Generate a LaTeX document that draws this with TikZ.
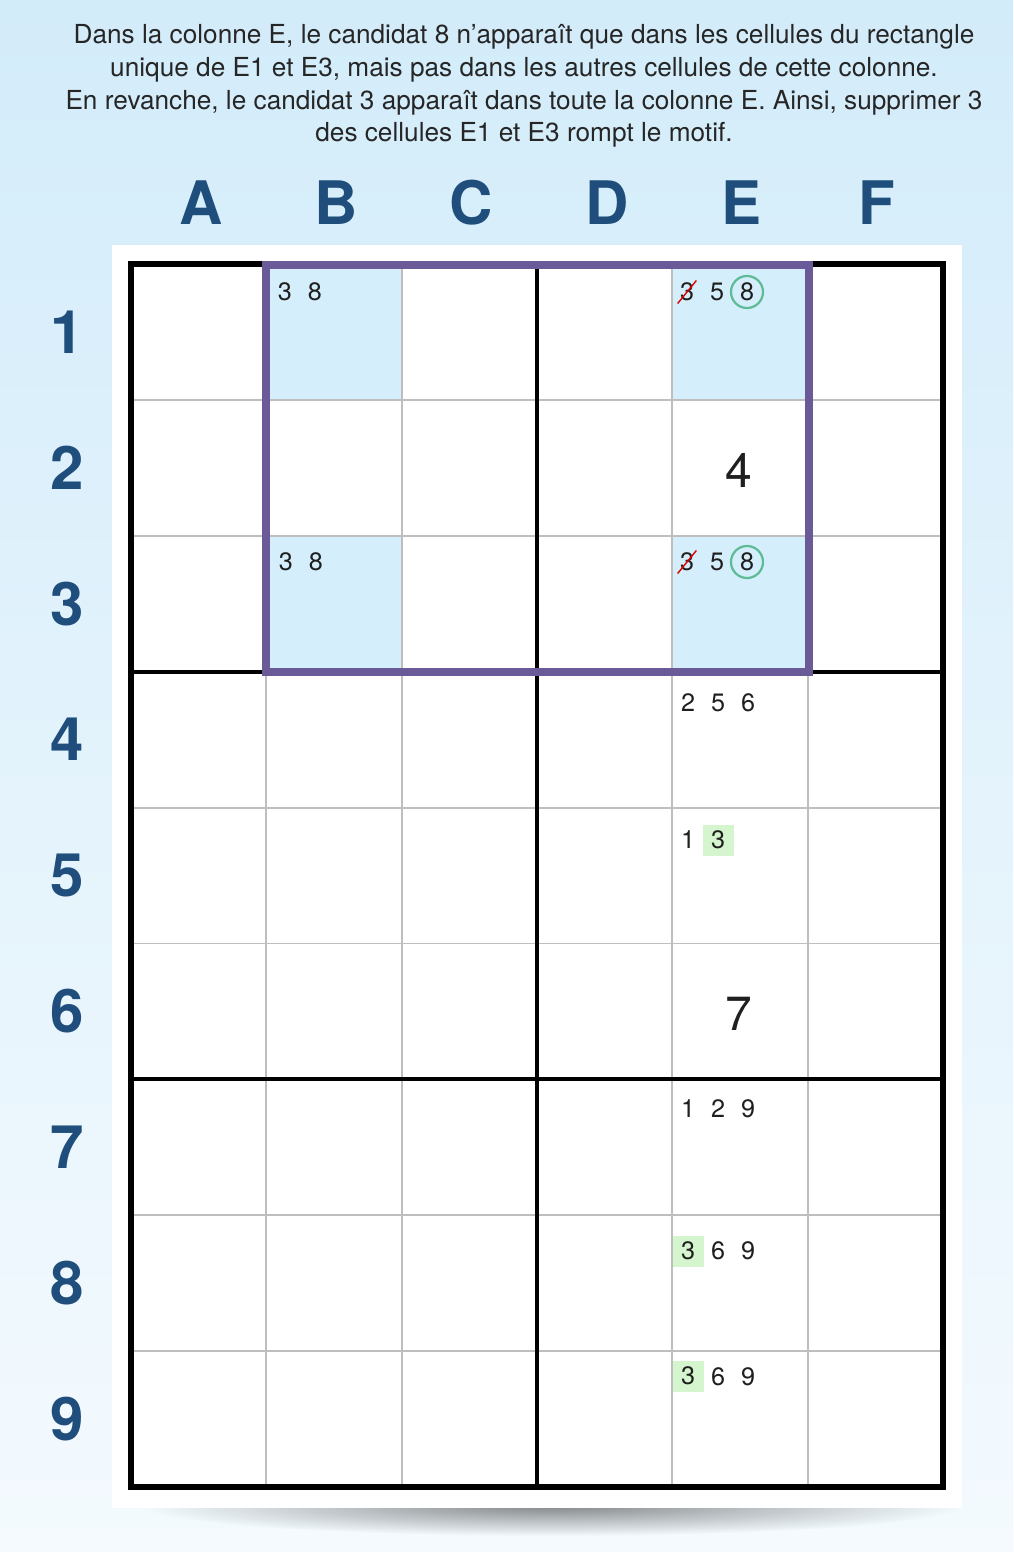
\documentclass[tikz,border=0pt]{standalone}
\usepackage{fontspec}
\setmainfont{TeX Gyre Heros}
\usetikzlibrary{fadings}
\definecolor{bgtop}{HTML}{D3ECFA}
\definecolor{bgbot}{HTML}{F4FAFE}
\definecolor{cellblue}{HTML}{D4EEFB}
\definecolor{labelblue}{HTML}{1F4E7C}
\definecolor{boxpurple}{HTML}{6A5A98}
\definecolor{ringgreen}{HTML}{5DBB95}
\definecolor{hlgreen}{HTML}{D5F5CE}
\definecolor{gridgrey}{HTML}{BEBEBE}
\tikzfading[name=softshadow, inner color=transparent!55, outer color=transparent!100]
\newcommand{\cw}{135.33}
\newcommand{\ch}{135.9}
\tikzset{
  cand/.style={inner sep=1pt, font=\fontsize{12.6}{12.6}\selectfont, text=black!88},
  given/.style={font=\fontsize{24}{24}\selectfont, text=black!88},
  collabel/.style={font=\fontsize{30}{30}\selectfont\bfseries, text=labelblue},
  rowlabel/.style={collabel},
  ring/.style={cand, circle, draw=ringgreen, line width=1.1pt, inner sep=0pt, minimum size=16pt},
  mark3/.style={cand, fill=hlgreen, minimum size=15.5pt, inner sep=0pt},
  strike/.style={red!90!black, line width=0.7pt},
  thingrid/.style={gridgrey, line width=0.9pt},
  thickgrid/.style={black, line width=2pt},
}
\begin{document}
\begin{tikzpicture}[x=0.5pt, y=-0.5pt]
% background and panel
\shade[top color=bgtop, bottom color=bgbot] (0,0) rectangle (1013,1552);
\useasboundingbox (0,0) rectangle (1013,1552);
\fill[black, path fading=softshadow] (552,1506) ellipse [x radius=410, y radius=30];
\fill[white] (112,245) rectangle (962,1508);

% explanation
\node[align=center, font=\fontsize{13.1}{16.4}\selectfont, text=black!85] (intro) at (524,86)
  {Dans la colonne E, le candidat 8 n’apparaît que dans les cellules du rectangle\\
   unique de E1 et E3, mais pas dans les autres cellules de cette colonne.\\
   En revanche, le candidat 3 apparaît dans toute la colonne E. Ainsi, supprimer 3\\
   des cellules E1 et E3 rompt le motif.};

% highlighted cells
\fill[cellblue] (266,264) rectangle (401,401);
\fill[cellblue] (266,537) rectangle (401,673);
\fill[cellblue] (672,264) rectangle (807,401);
\fill[cellblue] (672,537) rectangle (807,673);

% grid
\foreach \i in {1,...,5}
  \draw[thingrid] ({131+\cw*\i},264) -- ({131+\cw*\i},1487);
\foreach \j in {1,...,8}
  \draw[thingrid] (131,{264+\ch*\j}) -- (943,{264+\ch*\j});
\draw[thickgrid] ({131+\cw*3},264) -- ({131+\cw*3},1487);
\foreach \j in {3,6}
  \draw[thickgrid] (131,{264+\ch*\j}) -- (943,{264+\ch*\j});
\draw[black, line width=2.6pt] (131,264) rectangle (943,1487);

% unique rectangle
\draw[boxpurple, line width=3.6pt] (266,265) rectangle (809,672);

% labels
\foreach \l [count=\i from 0] in {A,B,C,D,E,F}
  \node[collabel] (col\l) at ({133+\cw*(\i+0.5)},203) {\l};
\foreach \r in {1,...,9}
  \node[rowlabel] (row\r) at (67,{264+\ch*(\r-0.5)}) {\r};

% B1, B3
\node[cand] (b1a) at (285,292) {3};
\node[cand] (b1b) at (315,292) {8};
\node[cand] (b3a) at (286,562) {3};
\node[cand] (b3b) at (316,562) {8};

% E1
\node[cand] (e1a) at (687,292) {3};
\node[cand] (e1b) at (717,292) {5};
\node[ring] (e1c) at (747,292) {8};
\draw[strike] (e1a.south west) -- (e1a.north east);
% E2
\node[given] (e2) at (739,470) {4};
% E3
\node[cand] (e3a) at (687,562) {3};
\node[cand] (e3b) at (717,562) {5};
\node[ring] (e3c) at (747,562) {8};
\draw[strike] (e3a.south west) -- (e3a.north east);
% E4
\node[cand] (e4a) at (688,703) {2};
\node[cand] (e4b) at (718,703) {5};
\node[cand] (e4c) at (748,703) {6};
% E5
\node[cand] (e5a) at (688,840) {1};
\node[mark3] (e5b) at (718,840) {3};
% E6
\node[given] (e6) at (739,1014) {7};
% E7
\node[cand] (e7a) at (688,1109) {1};
\node[cand] (e7b) at (718,1109) {2};
\node[cand] (e7c) at (748,1109) {9};
% E8
\node[mark3] (e8a) at (688,1251) {3};
\node[cand] (e8b) at (718,1251) {6};
\node[cand] (e8c) at (748,1251) {9};
% E9
\node[mark3] (e9a) at (688,1376) {3};
\node[cand] (e9b) at (718,1377) {6};
\node[cand] (e9c) at (748,1377) {9};
\end{tikzpicture}
\end{document}
